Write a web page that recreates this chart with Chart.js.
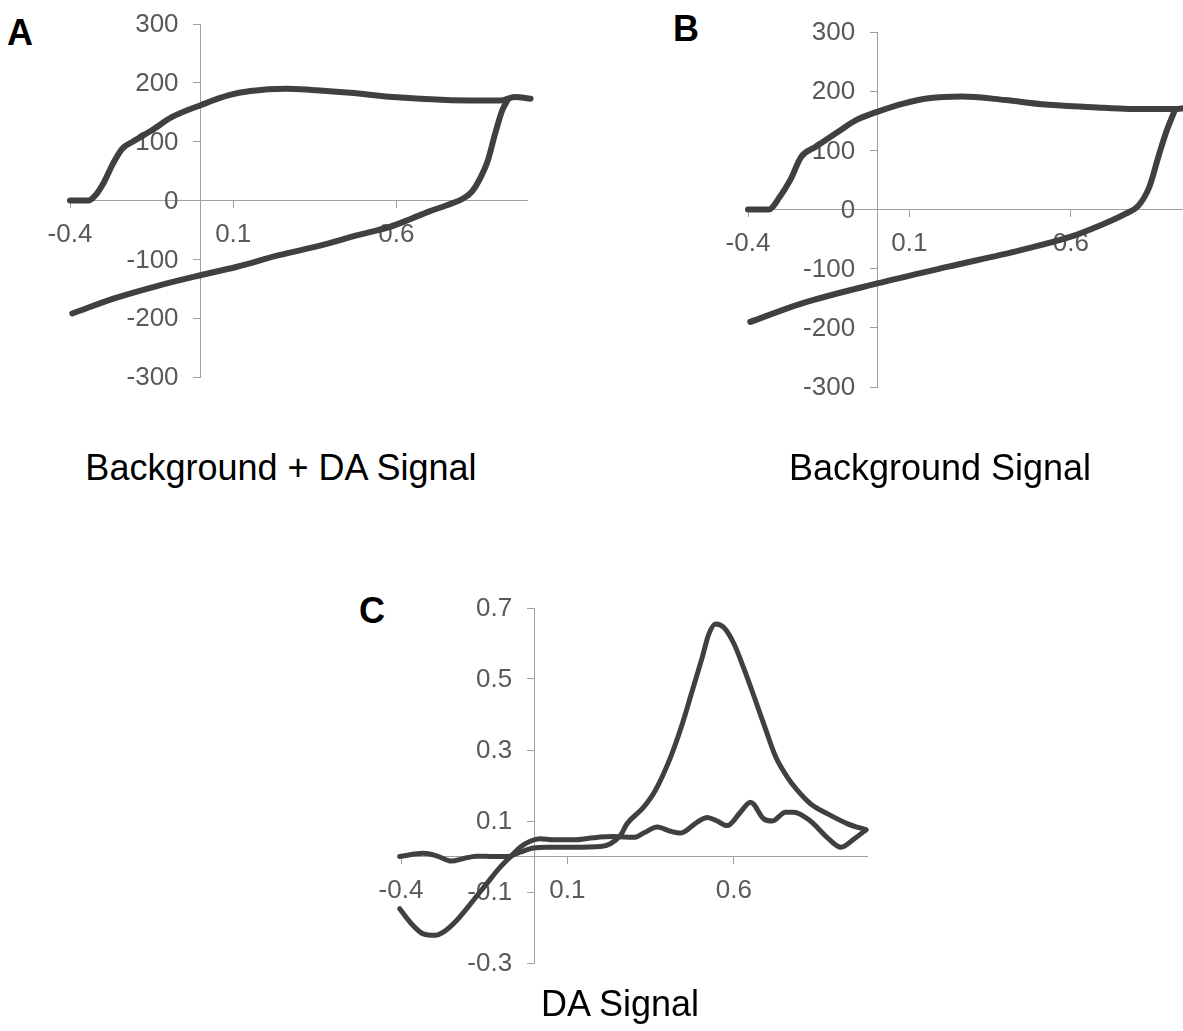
<!DOCTYPE html>
<html>
<head>
<meta charset="utf-8">
<title>Background and DA signal</title>
<script src="https://cdn.jsdelivr.net/npm/chart.js@4.4.1/dist/chart.umd.min.js"></script>
<style>
    html, body {
        margin: 0;
        padding: 0;
        background: #fff;
        width: 1183px;
        height: 1031px;
        overflow: hidden;
    }
    canvas, .label, .caption {
        position: absolute;
    }
    .label {
        font: bold 36px Arial, "Liberation Sans", sans-serif;
        color: #000;
    }
    .caption {
        font: 36px Arial, "Liberation Sans", sans-serif;
        color: #000;
        white-space: nowrap;
        transform: translateX(-50%);
    }
</style>
</head>
<body>
<div class="label" style="left: 7px; top: 12px;">A</div>
<div class="label" style="left: 673px; top: 8px;">B</div>
<div class="label" style="left: 359px; top: 590px;">C</div>

<canvas id="chartA" width="600" height="440" style="left: 0px; top: 0px;"></canvas>
<canvas id="chartB" width="640" height="450" style="left: 620px; top: 0px;"></canvas>
<canvas id="chartC" width="600" height="430" style="left: 330px; top: 580px;"></canvas>

<div class="caption" style="left: 281px; top: 447px;">Background + DA Signal</div>
<div class="caption" style="left: 940px; top: 447px;">Background Signal</div>
<div class="caption" style="left: 620px; top: 983px;">DA Signal</div>

<script>
// potential (V) on x, current on y
const potentialTicks = [-0.4, 0.1, 0.6];
const potentialLabels = ['-0.4', '0.1', '0.6'];
const bgTicks = [-300, -200, -100, 0, 100, 200, 300];
const bgLabels = ['-300', '-200', '-100', '0', '100', '200', '300'];
const daTicks = [-0.3, -0.1, 0.1, 0.3, 0.5, 0.7];
const daLabels = ['-0.3', '-0.1', '0.1', '0.3', '0.5', '0.7'];

// A: background + DA
const aFwdX = [-0.4, -0.344, -0.322, -0.295, -0.268, -0.24, -0.208, -0.153, -0.087, 0, 0.087, 0.153, 0.262, 0.339, 0.459, 0.59, 0.754, 0.918, 0.962, 1.011];
const aFwdY = [0, 0, 9, 32, 63, 88, 100, 118, 142, 162, 179, 186, 190, 188, 183, 176, 171, 170, 176, 173];
const aRevX = [0.94, 0.924, 0.902, 0.88, 0.853, 0.831, 0.803, 0.754, 0.699, 0.645, 0.579, 0.481, 0.372, 0.24, 0.109, 0, -0.131, -0.262, -0.393];
const aRevY = [170, 153, 113, 68, 34, 15, 3, -8, -19, -31, -45, -59, -76, -93, -113, -127, -145, -166, -192];

// B: background only
const bFwdX = [-0.4, -0.336, -0.302, -0.269, -0.235, -0.19, -0.122, -0.065, 0, 0.081, 0.16, 0.262, 0.397, 0.51, 0.668, 0.78, 0.928, 0.97, 1.0];
const bFwdY = [0, 0, 21, 50, 89, 106, 131, 151, 165, 179, 188, 191, 185, 178, 173, 170, 170, 172, 172];
const bRevX = [0.922, 0.894, 0.871, 0.843, 0.81, 0.77, 0.69, 0.6, 0.442, 0.217, 0, -0.235, -0.393];
const bRevY = [168, 129, 89, 38, 7, -7, -27, -46, -69, -97, -125, -159, -190];

// C: DA signal (background subtracted)
const cFwdX = [-0.404, -0.333, -0.293, -0.248, -0.213, -0.173, -0.122, -0.082, -0.042, -0.002, 0.038, 0.118, 0.199, 0.229, 0.259, 0.279, 0.329, 0.364, 0.41, 0.445, 0.475, 0.505, 0.525, 0.545, 0.57, 0.6, 0.63, 0.661, 0.691, 0.726, 0.761, 0.791, 0.831, 0.882, 0.942, 0.997];
const cFwdY = [0, 0.009, 0.002, -0.013, -0.006, 0.001, 0, 0, 0.012, 0.024, 0.026, 0.026, 0.028, 0.036, 0.059, 0.092, 0.139, 0.186, 0.28, 0.373, 0.467, 0.561, 0.627, 0.655, 0.645, 0.6, 0.53, 0.45, 0.37, 0.28, 0.223, 0.186, 0.148, 0.12, 0.092, 0.075];
const cRevX = [0.997, 0.962, 0.922, 0.88, 0.83, 0.78, 0.755, 0.716, 0.69, 0.65, 0.62, 0.58, 0.55, 0.52, 0.49, 0.44, 0.41, 0.37, 0.329, 0.3, 0.239, 0.179, 0.118, 0.058, 0.018, -0.012, -0.042, -0.067, -0.102, -0.143, -0.183, -0.233, -0.273, -0.298, -0.333, -0.368, -0.404];
const cRevY = [0.075, 0.05, 0.026, 0.054, 0.1, 0.125, 0.125, 0.1, 0.106, 0.153, 0.125, 0.087, 0.1, 0.11, 0.097, 0.066, 0.071, 0.083, 0.066, 0.054, 0.056, 0.053, 0.047, 0.047, 0.05, 0.043, 0.026, 0.003, -0.03, -0.077, -0.124, -0.18, -0.213, -0.222, -0.218, -0.19, -0.147];

const fontFamily = 'Arial, "Liberation Sans", sans-serif';
const tickColor = '#595959';
const tickSize = 26;
Chart.defaults.font.family = fontFamily;

const toPoints = (xs, ys) => xs.map((x, i) => ({ x: x, y: ys[i] }));

const lineStyle = (points, width) => ({
    data: points,
    showLine: true,
    borderColor: '#404040',
    borderWidth: width,
    borderCapStyle: 'round',
    borderJoinStyle: 'round',
    pointRadius: 0,
    cubicInterpolationMode: 'monotone',
    clip: false
});

const axisStyle = {
    grid: {
        drawOnChartArea: false,
        drawTicks: true,
        tickLength: 7,
        color: '#a0a0a0'
    },
    border: {
        color: '#a0a0a0',
        width: 1
    }
};

// y labels of an axis crossing at x = 0 sit right on the line in Chart.js,
// so draw them ourselves left of the tick marks (under the curves)
const yLabelPlugin = (yTicks, yLabels) => ({
    id: 'yLabels',
    beforeDatasetsDraw(chart) {
        const { ctx, scales } = chart;
        const x0 = scales.x.getPixelForValue(0);
        ctx.save();
        ctx.font = tickSize + 'px ' + fontFamily;
        ctx.fillStyle = tickColor;
        ctx.textAlign = 'right';
        ctx.textBaseline = 'middle';
        yTicks.forEach((v, i) => {
            ctx.fillText(yLabels[i], x0 - 22, scales.y.getPixelForValue(v) + 1);
        });
        ctx.restore();
    }
});

function makeChart(id, series, yMin, yMax, yTicks, yLabels, padding, lineWidth) {
    const ctx = document.getElementById(id).getContext('2d');
    return new Chart(ctx, {
        type: 'scatter',
        data: {
            datasets: series.map(s => lineStyle(toPoints(s[0], s[1]), lineWidth))
        },
        options: {
            responsive: false,
            animation: false,
            layout: { padding: padding },
            plugins: {
                legend: { display: false },
                tooltip: { enabled: false }
            },
            scales: {
                x: {
                    type: 'linear',
                    min: -0.4,
                    max: 1.0,
                    position: { y: 0 },
                    afterBuildTicks: scale => {
                        scale.ticks = potentialTicks.map(v => ({ value: v }));
                    },
                    ticks: {
                        padding: 12,
                        color: tickColor,
                        font: { size: tickSize },
                        autoSkip: false,
                        maxRotation: 0,
                        callback: (value, index) => potentialLabels[index]
                    },
                    ...axisStyle
                },
                y: {
                    type: 'linear',
                    min: yMin,
                    max: yMax,
                    position: { x: 0 },
                    afterBuildTicks: scale => {
                        scale.ticks = yTicks.map(v => ({ value: v }));
                    },
                    ticks: {
                        display: false
                    },
                    ...axisStyle
                }
            }
        },
        plugins: [yLabelPlugin(yTicks, yLabels)]
    });
}

makeChart('chartA', [[aFwdX, aFwdY], [aRevX, aRevY]], -300, 300, bgTicks, bgLabels,
    { left: 70, right: 73, top: 24, bottom: 63 }, 6);
makeChart('chartB', [[bFwdX, bFwdY], [bRevX, bRevY]], -300, 300, bgTicks, bgLabels,
    { left: 128, right: 60, top: 32, bottom: 63 }, 6);
makeChart('chartC', [[cFwdX, cFwdY], [cRevX, cRevY]], -0.3, 0.7, daTicks, daLabels,
    { left: 71, right: 63, top: 28, bottom: 47 }, 5);
</script>
</body>
</html>
